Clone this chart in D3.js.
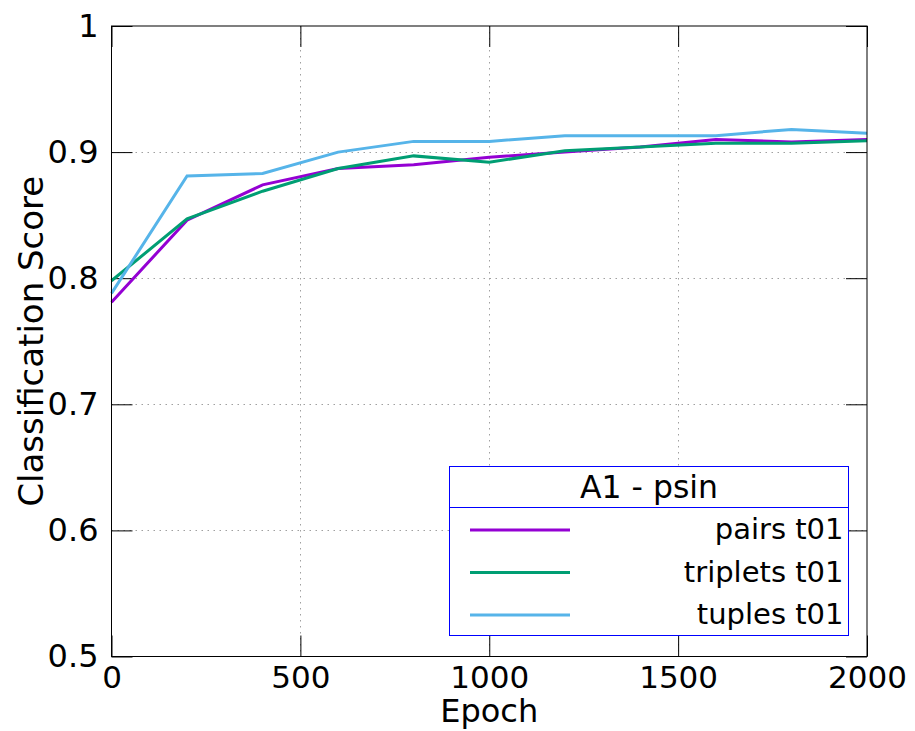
<!DOCTYPE html>
<html>
<head>
<meta charset="utf-8">
<script src="https://cdn.jsdelivr.net/npm/d3@7"></script>
<style>
  html, body { margin: 0; padding: 0; background: #fff; }
  svg { display: block; }
  text { font-family: "DejaVu Sans", sans-serif; fill: #000; }
</style>
</head>
<body>
<svg id="chart" width="915" height="731"></svg>
<script>
// Training epochs at which the classifier was evaluated
const epochs = [0, 200, 400, 600, 800, 1000, 1200, 1400, 1600, 1800, 2000];

// Classification score per training regime
const pairs    = [0.781, 0.846, 0.874, 0.887, 0.890, 0.896, 0.900, 0.904, 0.910, 0.908, 0.910];
const triplets = [0.798, 0.847, 0.869, 0.887, 0.897, 0.892, 0.901, 0.904, 0.907, 0.907, 0.909];
const tuples   = [0.788, 0.881, 0.883, 0.900, 0.9085, 0.9085, 0.913, 0.913, 0.913, 0.918, 0.915];

const seriesNames  = ["pairs t01", "triplets t01", "tuples t01"];
const seriesColors = ["#9400d3", "#009e73", "#56b4e9"];
const legendTitle  = "A1 - psin";

const xTicks = [0, 500, 1000, 1500, 2000];
const yTicks = [0.5, 0.6, 0.7, 0.8, 0.9, 1];
const xTitle = "Epoch";
const yTitle = "Classification Score";

const series = [pairs, triplets, tuples].map((vals, i) => ({
  name: seriesNames[i],
  color: seriesColors[i],
  points: epochs.map((e, j) => ({ x: e, y: vals[j] }))
}));

const svg = d3.select("#chart");
const plotL = 111.5, plotR = 867, plotT = 26, plotB = 656.5;
const tickLen = 21;

const x = d3.scaleLinear().domain([0, 2000]).range([plotL, plotR]);
const y = d3.scaleLinear().domain([0.5, 1]).range([plotB, plotT]);

// Dotted grid at interior ticks
const grid = svg.append("g")
  .attr("stroke", "#a0a0a0")
  .attr("stroke-width", 1)
  .attr("stroke-dasharray", "1.5,4.5");
grid.selectAll("line.gy")
  .data(yTicks.filter(v => v > 0.5 && v < 1))
  .join("line")
  .attr("x1", plotL).attr("x2", plotR)
  .attr("y1", d => Math.round(y(d)) + 0.5).attr("y2", d => Math.round(y(d)) + 0.5);
grid.selectAll("line.gx")
  .data(xTicks.filter(v => v > 0 && v < 2000))
  .join("line")
  .attr("y1", plotT).attr("y2", plotB)
  .attr("x1", d => Math.round(x(d)) + 0.5).attr("x2", d => Math.round(x(d)) + 0.5);

// Axes: ticks point inward, labels placed outside the frame
const fmtY = d => d === 1 ? "1" : d === 0.5 ? "0.5" : d3.format(".1f")(d);

const axLeft = svg.append("g")
  .attr("transform", `translate(${plotL},0)`)
  .call(d3.axisLeft(y).tickValues(yTicks).tickFormat(fmtY).tickSizeInner(-tickLen).tickSizeOuter(0).tickPadding(13));
const axRight = svg.append("g")
  .attr("transform", `translate(${plotR},0)`)
  .call(d3.axisRight(y).tickValues(yTicks).tickFormat("").tickSizeInner(-tickLen).tickSizeOuter(0));
const axBottom = svg.append("g")
  .attr("transform", `translate(0,${plotB})`)
  .call(d3.axisBottom(x).tickValues(xTicks).tickFormat(d3.format("d")).tickSizeInner(-tickLen).tickSizeOuter(0));
const axTop = svg.append("g")
  .attr("transform", `translate(0,${plotT})`)
  .call(d3.axisTop(x).tickValues(xTicks).tickFormat("").tickSizeInner(-tickLen).tickSizeOuter(0));

[axLeft, axRight, axBottom, axTop].forEach(g => {
  g.select(".domain").remove();
  g.selectAll(".tick line").attr("stroke", "#000").attr("stroke-width", 1);
  g.selectAll("text").attr("font-family", "DejaVu Sans").attr("fill", "#000");
});
axLeft.selectAll("text").attr("font-size", 32);
axBottom.selectAll("text").attr("font-size", 31).attr("y", 31.5).attr("dy", 0);

// Series lines
const line = d3.line().x(d => x(d.x)).y(d => y(d.y));
svg.append("g").selectAll("path")
  .data(series)
  .join("path")
  .attr("fill", "none")
  .attr("stroke", d => d.color)
  .attr("stroke-width", 3)
  .attr("stroke-linejoin", "miter")
  .attr("d", d => line(d.points));

// Plot frame
svg.append("rect")
  .attr("x", plotL).attr("y", plotT)
  .attr("width", plotR - plotL).attr("height", plotB - plotT)
  .attr("fill", "none").attr("stroke", "#000").attr("stroke-width", 1);

// Axis titles
svg.append("text")
  .attr("x", (plotL + plotR) / 2).attr("y", 721.5)
  .attr("text-anchor", "middle")
  .attr("font-size", 32)
  .text(xTitle);
svg.append("text")
  .attr("transform", `translate(43,${(plotT + plotB) / 2}) rotate(-90)`)
  .attr("text-anchor", "middle")
  .attr("font-size", 34)
  .text(yTitle);

// Legend
const lg = { x: 449.5, y: 466.5, w: 399, h: 169 };
const legend = svg.append("g");
legend.append("rect")
  .attr("x", lg.x).attr("y", lg.y).attr("width", lg.w).attr("height", lg.h)
  .attr("fill", "#fff").attr("stroke", "#0000ff").attr("stroke-width", 1);
legend.append("line")
  .attr("x1", lg.x).attr("x2", lg.x + lg.w)
  .attr("y1", 507.5).attr("y2", 507.5)
  .attr("stroke", "#0000ff").attr("stroke-width", 1);
legend.append("text")
  .attr("x", lg.x + lg.w / 2).attr("y", 497.5)
  .attr("text-anchor", "middle")
  .attr("font-size", 31.5)
  .text(legendTitle);

const rowY = d3.scalePoint().domain(seriesNames).range([530, 615]);
const rows = legend.selectAll("g.row")
  .data(series)
  .join("g")
  .attr("transform", d => `translate(0,${rowY(d.name)})`);
rows.append("line")
  .attr("x1", 470).attr("x2", 570)
  .attr("stroke", d => d.color).attr("stroke-width", 3);
rows.append("text")
  .attr("x", 843.5).attr("y", 9)
  .attr("text-anchor", "end")
  .attr("font-size", 29)
  .text(d => d.name);
</script>
</body>
</html>
